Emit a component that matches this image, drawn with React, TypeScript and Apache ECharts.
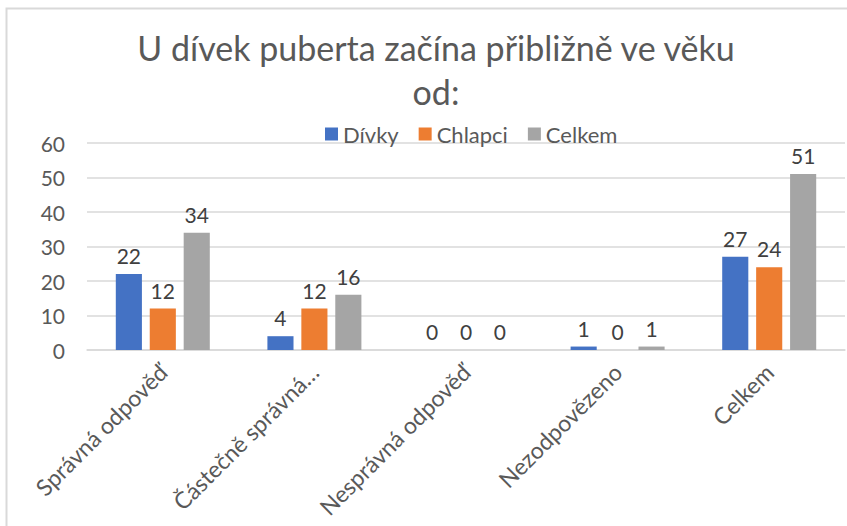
import React, { useEffect, useRef } from "react";
import * as echarts from "echarts";

const titleText = "U dívek puberta začína přibližně ve věku\nod:";
const categories = ["Správná odpověď", "Částečně správná…", "Nesprávná odpověď", "Nezodpovězeno", "Celkem"];
const seriesNames = ["Dívky", "Chlapci", "Celkem"];
const divky = [22, 4, 0, 1, 27];
const chlapci = [12, 12, 0, 0, 24];
const celkem = [34, 16, 0, 1, 51];
const colors = ["#4472c4", "#ed7d31", "#a5a5a5"];
const yTicks = { min: 0, max: 60, interval: 10 };

const FONT = "Lato, 'Noto Sans', sans-serif";

export default function App() {
  const ref = useRef<HTMLDivElement>(null);
  useEffect(() => {
    const chart = echarts.init(ref.current!, null, { renderer: "svg" });
    const values = [divky, chlapci, celkem];
    chart.setOption({
      animation: false,
      backgroundColor: "#ffffff",
      textStyle: { fontFamily: FONT },
      title: {
        text: titleText,
        left: 431,
        textAlign: "center",
        top: 20,
        textStyle: { fontFamily: FONT, fontSize: 34, fontWeight: "normal", color: "#595959", lineHeight: 44 },
      },
      legend: {
        top: 118,
        left: 320,
        itemWidth: 13,
        itemHeight: 13,
        itemGap: 20,
        icon: "rect",
        textStyle: { fontFamily: FONT, fontSize: 22, color: "#595959" },
        data: seriesNames,
      },
      graphic: [
        {
          type: "rect",
          shape: { x: 6.5, y: 8.5, width: 1000, height: 1000 },
          style: { fill: "none", stroke: "#d9d9d9", lineWidth: 2 },
          silent: true,
        },
      ],
      grid: { left: 87, right: 2, top: 143, bottom: 176, containLabel: false },
      xAxis: {
        type: "category",
        data: categories,
        axisLine: { lineStyle: { color: "#d9d9d9", width: 1.5 } },
        axisTick: { show: false },
        axisLabel: {
          rotate: 45,
          interval: 0,
          margin: 18,
          fontFamily: FONT,
          fontSize: 23,
          color: "#595959",
        },
      },
      yAxis: {
        type: "value",
        min: yTicks.min,
        max: yTicks.max,
        interval: yTicks.interval,
        axisLine: { show: false },
        axisTick: { show: false },
        splitLine: { lineStyle: { color: "#d9d9d9", width: 1.5 } },
        axisLabel: { fontFamily: FONT, fontSize: 21, color: "#595959", margin: 22 },
      },
      series: seriesNames.map((name, i) => ({
        name,
        type: "bar",
        data: values[i],
        barGap: "30%",
        barCategoryGap: "38%",
        itemStyle: { color: colors[i] },
        label: {
          show: true,
          position: "top",
          distance: 8,
          fontFamily: FONT,
          fontSize: 21,
          color: "#404040",
        },
      })),
    });
    return () => chart.dispose();
  }, []);
  return <div ref={ref} style={{ width: 847, height: 526, position: "absolute", left: 0, top: 0 }} />;
}
